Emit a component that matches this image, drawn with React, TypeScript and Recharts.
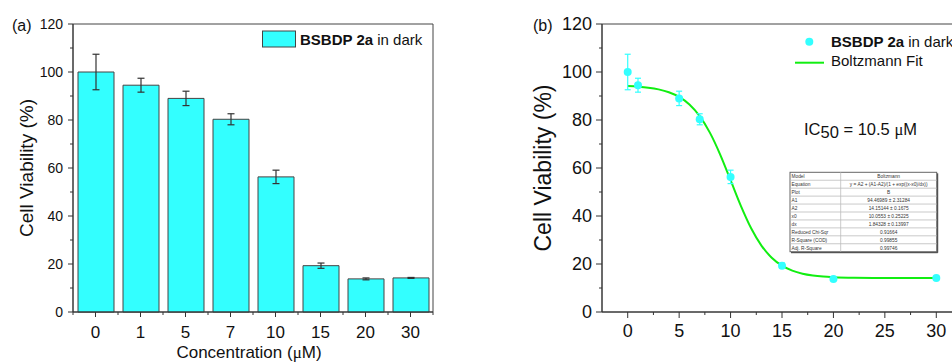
import React from 'react'
import { ComposedChart, Bar, Line, Scatter, ErrorBar, XAxis, YAxis, ReferenceArea, Legend } from 'recharts'

// concentrations (uM), cell viability (%) and error
const concLabels = ['0', '1', '5', '7', '10', '15', '20', '30']
const concValues = [0, 1, 5, 7, 10, 15, 20, 30]
const viability = [100, 94.5, 89, 80.3, 56.3, 19.3, 13.8, 14.2]
const viabilityErr = [7.4, 2.9, 3, 2.3, 2.8, 1.1, 0.4, 0.2]

// Boltzmann fit curve
const fitX = [0, 1, 2, 3, 4, 5, 6, 7, 8, 9, 10, 11, 12, 13, 14, 15, 16, 17, 18, 19, 20, 22, 25, 30]
const fitY = [94.13, 93.88, 93.47, 92.76, 91.57, 89.61, 86.46, 81.6, 74.63, 65.5, 54.91, 44.24, 34.89, 27.67, 22.61, 19.29, 17.22, 15.96, 15.22, 14.77, 14.51, 14.27, 14.18, 14.15]

const yTicks = [0, 10, 20, 30, 40, 50, 60, 70, 80, 90, 100, 110, 120]
const xTicksB = [0, 2.5, 5, 7.5, 10, 12.5, 15, 17.5, 20, 22.5, 25, 27.5, 30]

const tableNames = ['Model', 'Equation', 'Plot', 'A1', 'A2', 'x0', 'dx', 'Reduced Chi-Sqr', 'R-Square (COD)', 'Adj. R-Square']
const tableValues = ['Boltzmann', 'y = A2 + (A1-A2)/(1 + exp((x-x0)/dx))', 'B', '94.46989 \u00b1 2.31284', '14.15144 \u00b1 0.1675', '10.0553 \u00b1 0.25225', '1.84328 \u00b1 0.13997', '0.91664', '0.99855', '0.99746']

const barData = concLabels.map((c, i) => ({ c, v: viability[i], e: viabilityErr[i] }))
const points = concValues.map((x, i) => ({ x, y: viability[i], e: viabilityErr[i] }))
const fitData = fitX.map((x, i) => ({ x, y: fitY[i] }))

const CYAN = '#33ffff'
const GREEN = '#11ee11'
const AX = '#333'
const FONT = '"Liberation Sans", Arial, sans-serif'

const YTick = (p: any, fs: number, ts: number, tm: number) => {
  const { x, y, payload } = p
  const major = payload.value % 20 === 0
  const ax = x + ts + tm
  return (
    <g>
      <line x1={ax} x2={ax - (major ? ts : 3)} y1={y} y2={y} stroke={AX} />
      {major && (
        <text x={x} y={y} dy="0.36em" textAnchor="end" fontSize={fs} fill="#111" fontFamily={FONT}>
          {payload.value}
        </text>
      )}
    </g>
  )
}

const CatTick = (p: any) => {
  const { x, y, payload, index, visibleTicksCount, width } = p
  const half = payload.offset ?? width / visibleTicksCount / 2
  const ay = y - 14
  return (
    <g>
      <line x1={x} x2={x} y1={ay} y2={ay + 5} stroke={AX} />
      <line x1={x - half} x2={x - half} y1={ay} y2={ay + 3} stroke={AX} />
      {index === visibleTicksCount - 1 && <line x1={x + half} x2={x + half} y1={ay} y2={ay + 3} stroke={AX} />}
      <text x={x} y={y} dy="0.71em" textAnchor="middle" fontSize={17} fill="#111" fontFamily={FONT}>
        {payload.value}
      </text>
    </g>
  )
}

const NumTick = (p: any) => {
  const { x, y, payload } = p
  const major = payload.value % 5 === 0
  const ay = y - 12
  return (
    <g>
      <line x1={x} x2={x} y1={ay} y2={ay + (major ? 6 : 3)} stroke={AX} />
      {major && (
        <text x={x} y={y} dy="0.71em" textAnchor="middle" fontSize={18} fill="#111" fontFamily={FONT}>
          {payload.value}
        </text>
      )}
    </g>
  )
}

const yLabel = (cx: number, fs: number) => (p: any) => {
  const { y, height } = p.viewBox
  const cy = y + height / 2
  return (
    <text x={cx} y={cy} transform={`rotate(-90 ${cx} ${cy})`} textAnchor="middle" fontSize={fs} fill="#111" fontFamily={FONT}>
      Cell Viability (%)
    </text>
  )
}

const LegendA = () => (
  <svg width={180} height={22}>
    <rect x={0.5} y={1} width={33} height={16} fill={CYAN} stroke="#444" />
    <text x={38} y={15} fontSize={15} fill="#111" fontFamily={FONT}>
      <tspan fontWeight="bold">BSBDP 2a</tspan> in dark
    </text>
  </svg>
)

const LegendB = () => (
  <svg width={170} height={40}>
    <circle cx={14.3} cy={8.7} r={4} fill={CYAN} />
    <text x={36} y={14} fontSize={15} fill="#111" fontFamily={FONT}>
      <tspan fontWeight="bold">BSBDP 2a</tspan> in dark
    </text>
    <line x1={0} x2={29} y1={29.7} y2={29.7} stroke={GREEN} strokeWidth={2} />
    <text x={36} y={33} fontSize={15} fill="#111" fontFamily={FONT}>Boltzmann Fit</text>
  </svg>
)

const ParamTable = () => {
  const x0 = 790
  const y0 = 172.3
  const w = 146.7
  const rh = 7.94
  const split = 840.7
  const h = rh * tableNames.length
  return (
    <g fontFamily={FONT} fontSize={4.8} fill="#333">
      <rect x={x0} y={y0} width={w} height={h} fill="#fff" stroke="#666" strokeWidth={1} />
      <line x1={x0 + w + 1} x2={x0 + w + 1} y1={y0 + 1} y2={y0 + h + 1} stroke="#333" />
      <line x1={x0 + 1} x2={x0 + w + 1} y1={y0 + h + 1} y2={y0 + h + 1} stroke="#333" />
      <line x1={split} x2={split} y1={y0} y2={y0 + h} stroke="#bbb" strokeWidth={0.8} />
      {tableNames.map((n, i) => (
        <g key={n}>
          {i > 0 && <line x1={x0} x2={x0 + w} y1={y0 + i * rh} y2={y0 + i * rh} stroke="#bbb" strokeWidth={0.8} />}
          <text x={x0 + 1.5} y={y0 + i * rh + 5.9}>{n}</text>
          <text x={(split + x0 + w) / 2} y={y0 + i * rh + 5.9} textAnchor="middle">{tableValues[i]}</text>
        </g>
      ))}
    </g>
  )
}

export default function App() {
  return (
    <div style={{ position: 'absolute', left: 0, top: 0, width: 952, height: 362, overflow: 'hidden', background: '#fff', fontFamily: FONT }}>
      <div style={{ position: 'absolute', left: 0, top: 0 }}>
        <ComposedChart width={450} height={362} data={barData} margin={{ top: 24, right: 17, bottom: 0, left: 0 }}>
          <ReferenceArea y1={0} y2={120} fill="none" stroke="#444" strokeWidth={1} ifOverflow="visible" />
          <XAxis
            dataKey="c"
            height={50}
            interval={0}
            tickSize={5}
            tickMargin={9}
            tickLine={false}
            axisLine={{ stroke: AX }}
            tick={CatTick}
            label={(p: any) => {
              const vb = p.viewBox
              return (
                <text x={vb.x + vb.width / 2 - 4} y={vb.y + vb.height - 4} textAnchor="middle" fontSize={17} fill="#111" fontFamily={FONT}>
                  Concentration (<tspan fontFamily='"Liberation Serif", serif'>{'\u03bc'}</tspan>M)
                </text>
              )
            }}
          />
          <YAxis
            domain={[0, 120]}
            ticks={yTicks}
            width={73}
            interval={0}
            tickSize={5}
            tickMargin={5}
            tickLine={false}
            axisLine={{ stroke: AX }}
            tick={(p: any) => YTick(p, 14, 5, 5)}
            label={yLabel(33, 19)}
          />
          <Bar dataKey="v" barSize={36} fill={CYAN} stroke="#444" strokeWidth={1} isAnimationActive={false}>
            <ErrorBar dataKey="e" width={3.5} stroke="#333" strokeWidth={1.2} />
          </Bar>
          <Legend layout="vertical" verticalAlign="middle" align="center" wrapperStyle={{ left: 262, top: 30, width: 180, height: 22 }} content={LegendA} />
        </ComposedChart>
      </div>
      <div style={{ position: 'absolute', left: 480, top: 0 }}>
        <ComposedChart width={490} height={362} margin={{ top: 24, right: 8, bottom: 0, left: 0 }}>
          <ReferenceArea x1={-2.5} x2={32.5} y1={0} y2={120} fill="none" stroke="#444" strokeWidth={1} ifOverflow="visible" />
          <XAxis
            type="number"
            dataKey="x"
            domain={[-2.5, 32.5]}
            allowDataOverflow
            ticks={xTicksB}
            interval={0}
            height={50}
            tickSize={6}
            tickMargin={6}
            tickLine={false}
            axisLine={{ stroke: AX }}
            tick={NumTick}
          />
          <YAxis
            type="number"
            domain={[0, 120]}
            ticks={yTicks}
            width={122}
            interval={0}
            tickSize={6}
            tickMargin={4}
            tickLine={false}
            axisLine={{ stroke: AX }}
            tick={(p: any) => YTick(p, 18, 6, 4)}
            label={yLabel(71, 23)}
          />
          <Line data={fitData} dataKey="y" type="monotone" stroke={GREEN} strokeWidth={2} dot={false} isAnimationActive={false} />
          <Scatter
            data={points}
            dataKey="y"
            fill={CYAN}
            isAnimationActive={false}
            shape={(p: any) => <circle cx={p.cx} cy={p.cy} r={4} fill={CYAN} />}
          >
            <ErrorBar dataKey="e" direction="y" width={3} stroke={CYAN} strokeWidth={1.2} />
          </Scatter>
          <Legend layout="vertical" verticalAlign="middle" align="center" wrapperStyle={{ left: 315, top: 33, width: 170, height: 40 }} content={LegendB} />
        </ComposedChart>
      </div>
      <svg width={952} height={362} style={{ position: 'absolute', left: 0, top: 0, pointerEvents: 'none' }}>
        <text x={12} y={31} fontSize={16} fill="#111" fontFamily={FONT}>(a)</text>
        <text x={533} y={31} fontSize={16} fill="#111" fontFamily={FONT}>(b)</text>
        <text x={804} y={135} fontSize={16.5} fill="#111" fontFamily={FONT}>
          IC<tspan dy={3}>50</tspan>
          <tspan dy={-3}> = 10.5 </tspan>
          <tspan fontFamily='"Liberation Serif", serif'>{'\u03bc'}</tspan>M
        </text>
        <ParamTable />
      </svg>
    </div>
  )
}
